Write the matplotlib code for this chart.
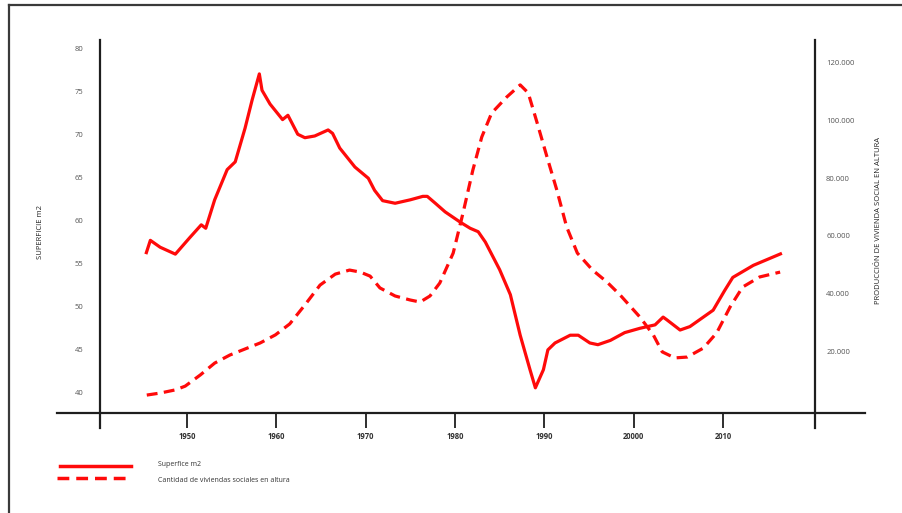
import matplotlib
matplotlib.use("Agg")
import matplotlib.pyplot as plt
from matplotlib.lines import Line2D

# ---- data ----
years_sup = [1945.4, 1945.9, 1947.0, 1948.7, 1950.3, 1951.6, 1952.1, 1953.1, 1954.5, 1955.4,
             1956.5, 1957.3, 1958.1, 1958.4, 1959.3, 1960.7, 1961.3, 1961.7, 1962.4, 1963.2,
             1964.3, 1965.8, 1966.3, 1967.1, 1968.8, 1970.3, 1971.0, 1971.9, 1973.3, 1975.0,
             1976.4, 1976.9, 1977.8, 1978.9, 1980.6, 1981.7, 1982.6, 1983.4, 1985.0, 1986.2,
             1987.3, 1988.4, 1989.0, 1989.9, 1990.4, 1991.2, 1992.9, 1993.8, 1995.1, 1996.0,
             1997.4, 1999.0, 2000.7, 2002.4, 2003.3, 2003.7, 2005.2, 2006.3, 2008.9, 2010.2,
             2011.1, 2013.4, 2016.6]
superficie = [56.1, 57.7, 56.9, 56.1, 58.0, 59.5, 59.1, 62.4, 65.9, 66.8,
              70.7, 74.0, 77.0, 75.1, 73.5, 71.7, 72.2, 71.4, 70.0, 69.6,
              69.8, 70.5, 70.1, 68.4, 66.2, 64.9, 63.5, 62.3, 62.0, 62.4,
              62.8, 62.8, 62.0, 61.0, 59.8, 59.1, 58.7, 57.5, 54.3, 51.4,
              46.7, 42.7, 40.6, 42.7, 45.0, 45.8, 46.7, 46.7, 45.8, 45.6,
              46.1, 47.0, 47.5, 47.9, 48.8, 48.5, 47.3, 47.7, 49.6, 51.9,
              53.4, 54.8, 56.2]

years_viv = [1945.5, 1947.0, 1948.7, 1949.8, 1951.5, 1953.1, 1954.8, 1956.5, 1958.2, 1959.9,
             1961.5, 1963.2, 1964.9, 1966.6, 1968.2, 1969.4, 1970.5, 1971.6, 1973.3, 1975.0,
             1976.1, 1977.2, 1978.3, 1979.8, 1980.9, 1982.0, 1983.0, 1984.1, 1985.8, 1987.3,
             1988.2, 1989.2, 1990.3, 1991.4, 1992.5, 1993.7, 1995.4, 1997.0, 1998.5, 2000.7,
             2002.2, 2003.2, 2004.6, 2006.0, 2007.8, 2009.3, 2010.8, 2012.2, 2014.1, 2016.4]
viviendas = [4700, 5400, 6500, 7800, 11700, 15800, 18600, 20700, 22800, 25600,
             29400, 36000, 42900, 46700, 48100, 47400, 46000, 41900, 39100, 37700,
             37000, 39100, 43600, 54000, 67900, 82800, 94300, 102600, 108200, 112400,
             109600, 99200, 87400, 75900, 63100, 54000, 48100, 44000, 39400, 31800,
             25600, 19700, 17600, 17900, 21000, 26300, 35300, 42200, 45700, 47400]

x_ticks = [1950, 1960, 1970, 1980, 1990, 2000, 2010]
x_labels = ["1950", "1960", "1970", "1980", "1990", "20000", "2010"]
left_ticks = [40, 45, 50, 55, 60, 65, 70, 75, 80]
right_ticks = [20000, 40000, 60000, 80000, 100000, 120000]
right_labels = ["20.000", "40.000", "60.000", "80.000", "100.000", "120.000"]

RED = "#ff0a0a"
AXC = "#1e1e1e"
W, H = 902, 513

plt.rcParams['font.family'] = ['Open Sans', 'DejaVu Sans']

fig = plt.figure(figsize=(W / 100, H / 100), dpi=100)
fig.patch.set_facecolor("white")

# axes spans pixel x 57..865, y 40..428
ax = fig.add_axes([57 / W, 1 - 428 / H, (865 - 57) / W, (428 - 40) / H])
ax.set_facecolor("none")
ax.set_xlim(1935.45, 2025.9)
ax.set_ylim(35.94, 80.93)
ax2 = ax.twinx()
ax2.set_ylim(-6736, 127986)

for s in ["top", "right"]:
    ax.spines[s].set_visible(False)
for s in ["top", "left", "bottom"]:
    ax2.spines[s].set_visible(False)

ax.spines["left"].set_position(("data", 1940.26))
ax.spines["bottom"].set_position(("data", 37.68))
ax2.spines["right"].set_position(("data", 2020.3))
for sp in [ax.spines["left"], ax.spines["bottom"], ax2.spines["right"]]:
    sp.set_color(AXC)
    sp.set_linewidth(1.6)

ax.plot(years_sup, superficie, color=RED, lw=2.3, solid_joinstyle="round",
        solid_capstyle="butt", zorder=3)
ax2.plot(years_viv, viviendas, color=RED, lw=2.3, dashes=(3.4, 2.0),
         dash_joinstyle="round", zorder=3)

ax.set_xticks(x_ticks)
ax.set_xticklabels(x_labels, fontsize=5.5, fontweight="bold", color="#333333")
ax.tick_params(axis="x", direction="out", length=10.5, width=1.3, color=AXC, pad=3)

ax.set_yticks(left_ticks)
ax.set_yticklabels([str(v) for v in left_ticks], fontsize=5.5, color="#555555")
ax.tick_params(axis="y", length=0, pad=12)

ax2.set_yticks(right_ticks)
ax2.set_yticklabels(right_labels, fontsize=5.5, color="#555555")
ax2.tick_params(axis="y", length=0, pad=8)

fig.text(40 / W, 1 - 232 / H, "SUPERFICIE m2", rotation=90, ha="center", va="center",
         fontsize=5.5, color="#222222")
fig.text(878 / W, 1 - 220 / H, "PRODUCCIÓN DE VIVIENDA SOCIAL EN ALTURA", rotation=90,
         ha="center", va="center", fontsize=5.5, color="#222222")

# legend
fig.add_artist(Line2D([60 / W, 131 / W], [1 - 466 / H, 1 - 466 / H], color=RED, lw=2.5,
                      transform=fig.transFigure))
fig.add_artist(Line2D([57 / W, 131 / W], [1 - 478 / H, 1 - 478 / H], color=RED, lw=2.5,
                      dashes=(3.4, 2.0), transform=fig.transFigure))
fig.text(158 / W, 1 - 465 / H, "Superfice m2", ha="left", va="center", fontsize=5,
         color="#333333")
fig.text(158 / W, 1 - 480 / H, "Cantidad de viviendas sociales en altura", ha="left",
         va="center", fontsize=5, color="#333333")

# frame
fig.add_artist(Line2D([9 / W, 1.0], [1 - 5 / H, 1 - 5 / H], color="#3a3a3a", lw=1.6,
                      transform=fig.transFigure))
fig.add_artist(Line2D([9 / W, 9 / W], [0.0, 1 - 5 / H], color="#3a3a3a", lw=1.6,
                      transform=fig.transFigure))

fig.savefig("out.png", dpi=100)
